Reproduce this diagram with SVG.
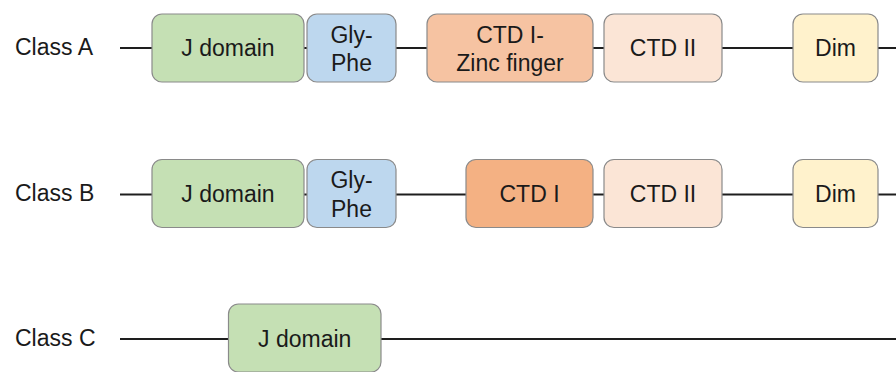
<svg xmlns="http://www.w3.org/2000/svg" width="896" height="372" viewBox="0 0 896 372">
<style>
.bg{fill:#ffffff}
.lbl{font-family:"Liberation Sans",Arial,sans-serif;font-size:23px;fill:#1a1a1a}
.t{font-family:"Liberation Sans",Arial,sans-serif;font-size:23px;fill:#1a1a1a;text-anchor:middle}
.box{stroke:#8a8a8a;stroke-width:1.2}
.j{fill:#c5e0b4}
.g{fill:#bdd7ee}
.cz{fill:#f6c3a2}
.c1{fill:#f4b183}
.c2{fill:#fbe5d6}
.d{fill:#fff2cc}
.ln{stroke:#1e1e1e;stroke-width:2;fill:none}
</style>
<rect class="bg" x="0" y="0" width="896" height="372"/>
<g id="connectors">
<line class="ln" x1="120" y1="48" x2="152" y2="48"/>
<line class="ln" x1="304" y1="48" x2="307" y2="48"/>
<line class="ln" x1="396" y1="48" x2="427" y2="48"/>
<line class="ln" x1="593" y1="48" x2="604" y2="48"/>
<line class="ln" x1="722" y1="48" x2="793" y2="48"/>
<line class="ln" x1="878" y1="48" x2="896" y2="48"/>
<line class="ln" x1="120" y1="194.5" x2="152" y2="194.5"/>
<line class="ln" x1="304" y1="194.5" x2="307" y2="194.5"/>
<line class="ln" x1="396" y1="194.5" x2="466" y2="194.5"/>
<line class="ln" x1="593" y1="194.5" x2="604" y2="194.5"/>
<line class="ln" x1="722" y1="194.5" x2="793" y2="194.5"/>
<line class="ln" x1="878" y1="194.5" x2="896" y2="194.5"/>
<line class="ln" x1="120" y1="339" x2="228" y2="339"/>
<line class="ln" x1="381" y1="339" x2="896" y2="339"/>
</g>
<g id="labelA"><text class="lbl" x="15" y="55">Class A</text></g>
<g id="labelB"><text class="lbl" x="15" y="201">Class B</text></g>
<g id="labelC"><text class="lbl" x="15" y="346">Class C</text></g>
<g id="A_J"><rect class="box j" x="152" y="14" width="152" height="68" rx="10"/><text class="t" x="228" y="56">J domain</text></g>
<g id="A_GP"><rect class="box g" x="307" y="14" width="89" height="68" rx="10"/><text class="t" x="351.5" y="42.5">Gly-</text><text class="t" x="351.5" y="71">Phe</text></g>
<g id="A_CTDI"><rect class="box cz" x="427" y="14" width="166" height="68" rx="10"/><text class="t" x="510" y="42.5">CTD I-</text><text class="t" x="510" y="71">Zinc finger</text></g>
<g id="A_CTDII"><rect class="box c2" x="604" y="14" width="118" height="68" rx="10"/><text class="t" x="663" y="56">CTD II</text></g>
<g id="A_Dim"><rect class="box d" x="793" y="14" width="85" height="68" rx="10"/><text class="t" x="835.5" y="56">Dim</text></g>
<g id="B_J"><rect class="box j" x="152" y="159.5" width="152" height="68" rx="10"/><text class="t" x="228" y="202">J domain</text></g>
<g id="B_GP"><rect class="box g" x="307" y="159.5" width="89" height="68" rx="10"/><text class="t" x="351.5" y="188">Gly-</text><text class="t" x="351.5" y="216.5">Phe</text></g>
<g id="B_CTDI"><rect class="box c1" x="466" y="159.5" width="127" height="68" rx="10"/><text class="t" x="529.5" y="202">CTD I</text></g>
<g id="B_CTDII"><rect class="box c2" x="604" y="159.5" width="118" height="68" rx="10"/><text class="t" x="663" y="202">CTD II</text></g>
<g id="B_Dim"><rect class="box d" x="793" y="159.5" width="85" height="68" rx="10"/><text class="t" x="835.5" y="202">Dim</text></g>
<g id="C_J"><rect class="box j" x="228.5" y="304" width="152.5" height="68" rx="10"/><text class="t" x="304.7" y="347">J domain</text></g>
</svg>
